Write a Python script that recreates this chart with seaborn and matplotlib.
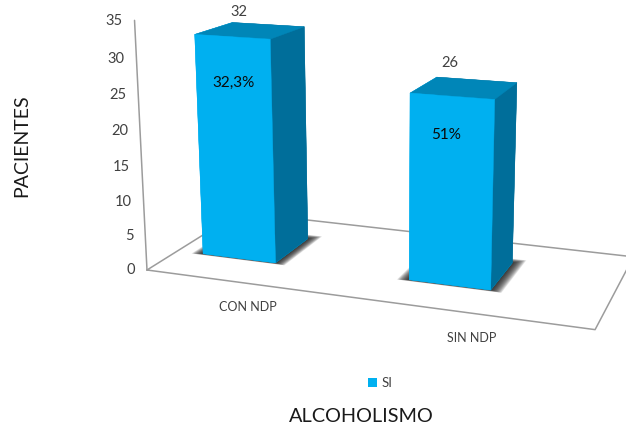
import numpy as np
import matplotlib
matplotlib.use('Agg')
import matplotlib.pyplot as plt
from matplotlib.patches import Patch
from mpl_toolkits.mplot3d.art3d import Poly3DCollection
import seaborn as sns

# Patients per group, with the share written on each bar
categories = ['CON NDP', 'SIN NDP']
pacientes = [32, 26]
porcentajes = ['32,3%', '51%']
y_ticks = [0, 5, 10, 15, 20, 25, 30, 35]
serie = 'SI'

FRONT, TOP, SIDE = '#00B0F0', '#0086B8', '#006E9A'
LINE = '#9C9C9C'
TEXT = '#404040'

sns.set_theme(style='white')
plt.rcParams['font.family'] = ['Lato', 'DejaVu Sans']

W, H = 626, 426
side = 544.3
fig = plt.figure(figsize=(W / 100, H / 100), dpi=100, facecolor='white')
ax = fig.add_axes([114.61 / W, 3.10 / H, side / W, side / H], projection='3d')
ax.computed_zorder = False
ax.set_xticks([])
ax.set_yticks([])
ax.set_zticks([])
ax.xaxis.set_visible(False)
ax.yaxis.set_visible(False)
ax.zaxis.set_visible(False)
ax.set_axis_off()
ax.patch.set_alpha(0)
ax.view_init(elev=14.2421, azim=-70.2699, roll=-0.0562)
ax.set_proj_type('persp', focal_length=float(np.exp(-0.8444)))
ax.set_box_aspect((1, 0.4552, 0.5571))

# Floor outline and the value axis
floor_x = [0, 2, 2, 0, 0]
floor_y = [0, 0, 1, 1, 0]
ax.plot(floor_x, floor_y, [0] * 5, color=LINE, lw=1.1, zorder=1)
ax.plot([0, 0], [0, 0], [0, 35], color=LINE, lw=1.1, zorder=1)

bar_x = [0.1301, 1.1338]
bar_w, bar_y, bar_d = 0.3655, 0.307, 0.3988
# Face order in bar3d: bottom, top, front, back, left, right
face_colors = [FRONT, TOP, FRONT, SIDE, FRONT, SIDE]

for x0, v in zip(bar_x, pacientes):
    # Soft contact shadow built from stacked translucent footprints
    for t in np.linspace(1, 0, 24):
        x_a, x_b = x0 - 0.052 * t, x0 + bar_w + 0.052 * t
        y_a, y_b = bar_y - 0.018 * t, bar_y + bar_d + 0.06 * t
        quad = [[(x_a, y_a, 0), (x_b, y_a, 0), (x_b, y_b, 0), (x_a, y_b, 0)]]
        ax.add_collection3d(Poly3DCollection(quad, facecolor=(0.1, 0.1, 0.1, 0.075),
                                             edgecolor='none', zorder=2))
    ax.bar3d(x0, bar_y, 0, bar_w, bar_d, v, shade=False, zorder=3,
             color=face_colors, edgecolor=face_colors, linewidth=0.3)

# Value axis tick labels
for tick in y_ticks:
    ax.text(-0.06, 0, tick - 0.25, str(tick), ha='right', va='center', fontsize=10.5,
            color=TEXT, zorder=5)

# Category labels below the front edge of the floor
for x, name in zip([0.49, 1.5], categories):
    ax.text(x, 0, -3.4, name, ha='center', va='center', fontsize=9, color=TEXT, zorder=5)

# Counts over the bars and shares on their front faces
for x0, v, pct, dx, dz, dpx, dpz in zip(bar_x, pacientes, porcentajes,
                                        [-0.053, -0.065], [2.6, 3.2], [0, -0.025], [-6.5, -5.3]):
    ax.text(x0 + bar_w / 2 + dx, bar_y + bar_d / 2, v + dz, str(v), ha='center', va='center',
            fontsize=10.5, color=TEXT, zorder=5)
    ax.text(x0 + bar_w / 2 + dpx, bar_y, v + dpz, pct, ha='center', va='center',
            fontsize=11, color='#0A0A0A', zorder=5)

ax.set_xlim(0, 2, view_margin=0)
ax.set_ylim(0, 1, view_margin=0)
ax.set_zlim(0, 35, view_margin=0)

fig.text(22 / W, 1 - 145.5 / H, 'PACIENTES', rotation=90, ha='center', va='center',
         fontsize=14, color='#1A1A1A')
fig.text(361.5 / W, 1 - 416 / H, 'ALCOHOLISMO', ha='center', va='center',
         fontsize=14.3, color='#1A1A1A')
fig.legend(handles=[Patch(facecolor=FRONT, edgecolor='none', label=serie)], loc='center',
           bbox_to_anchor=(380 / W, 1 - 383 / H), frameon=False, fontsize=9.5,
           handlelength=0.7, handleheight=0.7, handletextpad=0.35, labelcolor=TEXT)

fig.savefig('out.png', dpi=100)
